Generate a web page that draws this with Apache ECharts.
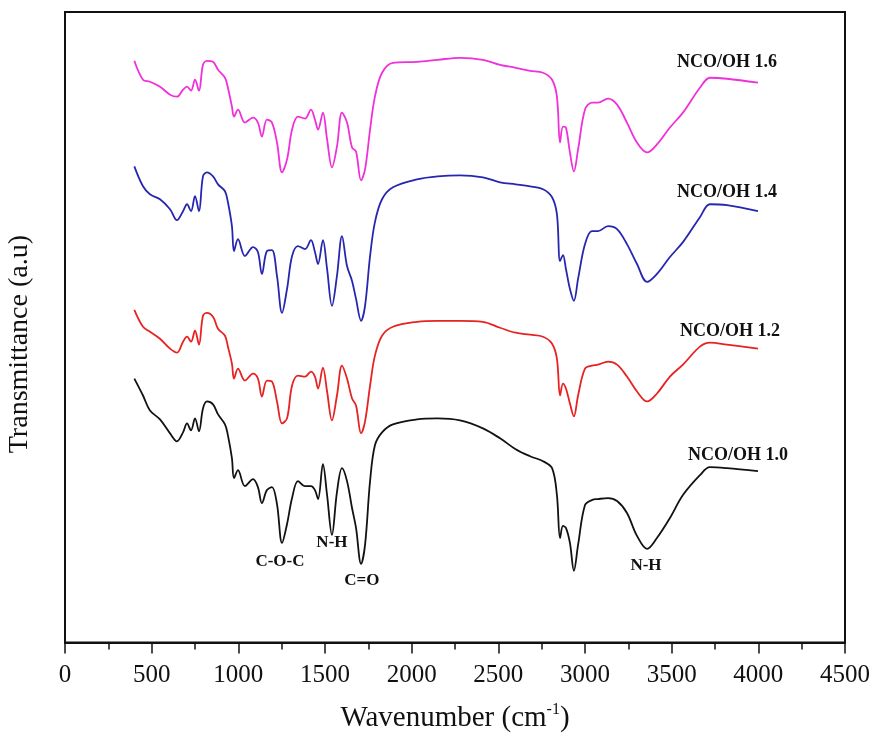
<!DOCTYPE html>
<html>
<head>
<meta charset="utf-8">
<script src="https://cdn.jsdelivr.net/npm/echarts@6/dist/echarts.min.js"></script>
<style>
  html, body { margin: 0; padding: 0; background: #fff; }
  #chart { width: 875px; height: 738px; }
</style>
</head>
<body>
<div id="chart"></div>
<script>
// FTIR spectra of the polyurethane samples, stacked with vertical offsets (a.u.)
const wavenumbers = [
  400, 450, 490, 548, 606, 646, 681, 704, 727, 750,
  773, 796, 819, 854, 883, 923, 940, 963, 975, 998,
  1038, 1085, 1113, 1136, 1165, 1194, 1223, 1252, 1281, 1310,
  1344, 1385, 1419, 1442, 1460, 1488, 1512, 1540, 1569, 1598,
  1627, 1656, 1679, 1708, 1731, 1760, 1788, 1829, 1892, 2031,
  2150, 2279, 2411, 2510, 2600, 2683, 2758, 2810, 2838, 2856,
  2873, 2890, 2913, 2936, 2960, 3000, 3040, 3075, 3133, 3185,
  3242, 3300, 3358, 3415, 3490, 3565, 3663, 3721, 3819, 3998
];

const ratio16 = [
  584, 565, 563, 558, 550, 548, 555, 558, 554, 565,
  554, 580, 584, 583, 575, 567, 557, 538, 528, 535,
  522, 527, 522, 508, 525, 522, 502, 472, 485, 515,
  528, 526, 535, 525, 515, 532, 505, 477, 498, 532,
  522, 497, 493, 464, 475, 515, 548, 572, 582, 583,
  585, 587, 585, 580, 577, 574, 572, 565, 548, 502,
  518, 517, 492, 473, 495, 535, 542, 542, 546, 540,
  522, 502, 492, 500, 517, 532, 557, 567, 566, 562
];

const ratio14 = [
  478, 458, 450, 445, 435, 424, 433, 440, 433, 448,
  433, 468, 472, 468, 460, 453, 442, 418, 393, 405,
  388, 397, 392, 370, 393, 394, 368, 331, 355, 388,
  398, 395, 404, 392, 380, 404, 375, 338, 368, 408,
  378, 363, 345, 323, 338, 388, 422, 445, 457, 465,
  468, 469, 467, 462, 460, 458, 455, 447, 430, 383,
  389, 375, 355, 343, 365, 400, 413, 413, 418, 415,
  400, 380, 362, 370, 387, 402, 427, 440, 439, 433
];

const ratio12 = [
  334, 317, 312, 305, 295, 291, 302, 307, 302, 313,
  299, 328, 331, 327, 315, 308, 297, 280, 265, 275,
  263, 270, 265, 247, 263, 262, 242, 220, 225, 258,
  268, 267, 272, 267, 255, 276, 252, 223, 248, 278,
  265, 245, 238, 210, 222, 258, 288, 308, 317, 322,
  323, 323, 322, 316, 311, 309, 307, 300, 285, 248,
  260, 255, 240, 227, 248, 275, 278, 279, 282, 279,
  267, 252, 242, 250, 267, 279, 297, 301, 299, 295
];

const ratio10 = [
  265, 248, 233, 224, 210, 202, 211, 220, 213, 225,
  212, 235, 242, 239, 229, 219, 208, 185, 165, 173,
  157, 164, 156, 140, 153, 156, 139, 100, 119, 145,
  162, 157, 157, 153, 144, 179, 148, 108, 151, 175,
  162, 135, 115, 79, 98, 162, 198, 211, 219, 224,
  225, 223, 215, 205, 194, 187, 182, 175, 148, 105,
  117, 115, 100, 72, 98, 138, 143, 144, 145, 142,
  130, 107, 94, 105, 125, 148, 168, 176, 175, 172
];

const seriesNames = ['NCO/OH 1.6', 'NCO/OH 1.4', 'NCO/OH 1.2', 'NCO/OH 1.0'];
const seriesValues = [ratio16, ratio14, ratio12, ratio10];
const xTicks = [0, 500, 1000, 1500, 2000, 2500, 3000, 3500, 4000, 4500];

const colors = ['#f030d8', '#2626b0', '#e62222', '#121212'];
// where each curve's name label sits, in data units
const nameAnchors = [[3819, 582], [3819, 452], [3836, 312], [3883, 188]];
// band assignments written under the 1.0 curve
const bandNotes = [
  { text: 'C-O-C', at: [1240, 81] },
  { text: 'N-H', at: [1540, 100] },
  { text: 'C=O', at: [1713, 62] },
  { text: 'N-H', at: [3352, 77] }
];

const FONT = 'Liberation Serif';

function pairs(values) {
  return wavenumbers.map((w, i) => [w, values[i]]);
}

const series = seriesNames.map((name, k) => {
  const marks = [{ name: name, coord: nameAnchors[k], label: { fontSize: 18 } }];
  if (k === 3) {
    bandNotes.forEach(n => marks.push({ name: n.text, coord: n.at }));
  }
  return {
    name: name,
    type: 'line',
    data: pairs(seriesValues[k]),
    showSymbol: false,
    smooth: 0.35,
    lineStyle: { color: colors[k], width: 1.8 },
    itemStyle: { color: colors[k] },
    silent: true,
    markPoint: {
      silent: true,
      symbol: 'circle',
      symbolSize: 0,
      animation: false,
      label: {
        show: true,
        position: 'inside',
        formatter: '{b}',
        color: '#111',
        fontFamily: FONT,
        fontWeight: 'bold',
        fontSize: 17
      },
      data: marks
    }
  };
});

const chart = echarts.init(document.getElementById('chart'), null, { renderer: 'canvas' });
chart.setOption({
  animation: false,
  backgroundColor: '#fff',
  grid: {
    left: 65, right: 30, top: 12, bottom: 93,
    show: true, borderColor: '#111', borderWidth: 2, backgroundColor: 'transparent'
  },
  graphic: [{
    type: 'text',
    left: 6,
    top: 235,
    rotation: Math.PI / 2,
    style: {
      text: 'Transmittance (a.u)',
      fontFamily: FONT,
      fontSize: 28,
      fill: '#111'
    }
  }],
  xAxis: {
    type: 'value',
    min: xTicks[0],
    max: xTicks[xTicks.length - 1],
    interval: 500,
    name: '{a|Wavenumber (cm}{s|-1}{a|)}',
    nameLocation: 'middle',
    nameGap: 59,
    nameTextStyle: {
      rich: {
        a: { fontFamily: FONT, fontSize: 29, color: '#111', lineHeight: 34 },
        s: { fontFamily: FONT, fontSize: 16, color: '#111', verticalAlign: 'top', lineHeight: 34 }
      }
    },
    axisLine: { show: true, onZero: false, lineStyle: { color: '#111', width: 2 } },
    axisTick: { show: true, inside: false, length: 11, lineStyle: { color: '#111', width: 1.5 } },
    minorTick: { show: true, splitNumber: 2, length: 7, lineStyle: { color: '#111', width: 1.5 } },
    axisLabel: {
      fontFamily: FONT, fontSize: 25, color: '#111', margin: 20,
      formatter: v => String(v)
    },
    splitLine: { show: false }
  },
  yAxis: {
    type: 'value',
    min: 0,
    max: 633,
    axisLine: { show: true, lineStyle: { color: '#111', width: 2 } },
    axisTick: { show: false },
    axisLabel: { show: false },
    splitLine: { show: false }
  },
  series: series
});
</script>
</body>
</html>
